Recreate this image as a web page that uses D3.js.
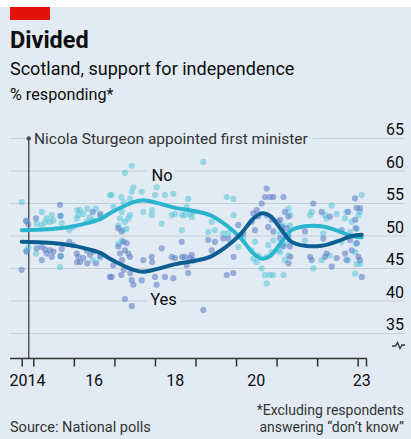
<!DOCTYPE html>
<html><head><meta charset="utf-8">
<script src="https://cdn.jsdelivr.net/npm/d3@7"></script>
<style>
html,body{margin:0;padding:0;background:#fff;}
svg{display:block;font-family:Roboto,"Noto Sans",sans-serif;}
</style></head>
<body><svg id="c" width="411" height="439"></svg>
<script>
// ---- data ----
const pollDates = [2014.714,2014.82,2014.877,2014.837,2015.067,2015.658,2015.67,2015.084,2015.207,2015.289,2015.33,2015.21,2015.412,2015.493,2015.454,2015.70,2015.676,2015.888,2015.986,2016.07,2016.11,2016.152,2016.233,2016.317,2016.398,2016.48,2016.546,2016.645,2016.332,2016.08,2016.465,2016.65,2016.973,2016.933,2017.096,2017.18,2017.10,2017.138,2017.19,2017.22,2017.303,2017.261,2017.343,2017.385,2017.23,2017.17,2017.39,2017.427,2017.466,2017.26,2017.43,2017.713,2017.673,2017.92,2017.93,2018.001,2018.043,2018.166,2018.248,2018.413,2018.494,2018.453,2018.66,2018.67,2018.741,2018.783,2018.822,2018.906,2018.946,2016.89,2018.86,2019.192,2019.77,2019.932,2019.94,2019.316,2019.4,2019.481,2019.686,2019.809,2020.056,2020.097,2020.179,2020.425,2020.51,2020.633,2020.714,2020.755,2020.837,2020.919,2020.549,2020.76,2020.88,2020.795,2020.92,2021.042,2021.126,2021.084,2021.165,2020.386,2020.467,2021.17,2021.207,2021.09,2021.289,2021.249,2021.29,2021.33,2021.34,2021.295,2021.7,2021.905,2021.824,2021.866,2022.112,2022.152,2022.235,2022.194,2022.317,2022.359,2022.482,2022.605,2022.687,2022.768,2022.81,2022.852,2022.933,2022.974,2022.94,2022.95,2022.98,2023.017,2023.058,2023.1,2023.06,2022.72];
const yesPolls = [44.8,52.3,51.8,47.6,52.7,54.8,53.1,48.1,48.3,47.9,47.3,46.3,47.8,47.6,46.8,48.0,46.9,49.1,48.6,47.3,46.8,46.0,46.6,47.8,47.1,47.6,45.8,46.9,45.8,46.0,53.7,53.4,45.5,43.7,51.2,50.7,48.4,47.3,46.3,49.1,48.9,47.8,47.3,46.8,44.8,44.0,44.3,43.2,42.5,40.3,39.2,46.3,43.2,46.8,46.0,43.7,42.5,48.1,43.7,46.8,46.6,43.5,49.1,46.8,46.8,45.5,44.3,47.1,46.3,43.7,46.6,38.6,44.0,44.3,46.8,49.4,47.8,49.1,49.6,49.6,51.7,49.9,50.4,53.5,54.0,55.0,56.0,57.3,56.0,56.0,53.0,53.2,52.5,51.4,50.7,52.2,51.4,49.6,48.4,52.2,50.9,56.0,53.7,52.5,53.0,51.2,49.9,48.4,46.8,45.8,50.7,55.0,46.8,46.3,53.7,49.6,47.3,46.8,53.0,45.3,46.6,50.9,47.3,53.7,49.4,47.8,55.8,54.3,52.5,51.2,48.9,46.8,46.3,43.7,54.3,46.3];
const noPolls = [55.2,47.7,48.2,52.4,47.3,45.2,46.9,51.9,51.7,52.1,52.7,53.7,52.2,52.4,53.2,52.0,53.1,50.9,51.4,52.7,53.2,54.0,53.4,52.2,52.9,52.4,54.2,53.1,54.2,54.0,46.3,46.6,54.5,56.3,48.8,49.3,51.6,52.7,53.7,50.9,51.1,52.2,52.7,53.2,55.2,56.0,55.7,56.8,57.5,59.7,60.8,53.7,56.8,53.2,54.0,56.3,57.5,51.9,56.3,53.2,53.4,56.5,50.9,53.2,53.2,54.5,55.7,52.9,53.7,56.3,53.4,61.4,56.0,55.7,53.2,50.6,52.2,50.9,50.4,50.4,48.3,50.1,49.6,46.5,46.0,45.0,44.0,42.7,44.0,44.0,47.0,46.8,47.5,48.6,49.3,47.8,48.6,50.4,51.6,47.8,49.1,44.0,46.3,47.5,47.0,48.8,50.1,51.6,53.2,54.2,49.3,45.0,53.2,53.7,46.3,50.4,52.7,53.2,47.0,54.7,53.4,49.1,52.7,46.3,50.6,52.2,44.2,45.7,47.5,48.8,51.1,53.2,53.7,56.3,45.7,53.7];

const trendDates = [2014.714,2015.24,2015.66,2016.07,2016.40,2016.65,2016.89,2017.14,2017.47,2017.71,2018.04,2018.45,2018.99,2019.36,2019.77,2020.10,2020.43,2020.64,2020.84,2021.125,2021.37,2021.70,2022.11,2022.51,2022.85,2023.10];
const yesTrend = [49.1,49.0,48.8,48.4,47.9,47.4,46.5,45.7,44.8,44.5,44.9,45.6,46.2,46.8,48.4,50.2,52.7,53.5,53.1,50.9,49.1,48.5,48.5,49.2,50.0,50.2];
const noTrend  = [50.9,51.0,51.2,51.6,52.1,52.6,53.5,54.3,55.2,55.5,55.1,54.4,53.8,53.2,51.6,49.8,47.3,46.5,46.9,49.1,50.9,51.5,51.5,50.8,50.0,49.8];

const yTicks = [35,40,45,50,55,60,65];
const yearTicks = [2015,2016,2017,2018,2019,2020,2021,2022,2023];
const xLabels = [{t:2014.857,label:"2014"},{t:2016.5,label:"16"},{t:2018.5,label:"18"},{t:2020.5,label:"20"},{t:2023.10,label:"23"}];
const sturgeonDate = 2014.888;
const domainStart = 2014.714, domainEnd = 2023.205;

// ---- chart ----
const svg = d3.select("#c");
const bg = "#e2ebf3";
svg.append("rect").attr("x",0).attr("y",7).attr("width",411).attr("height",432).attr("fill",bg);
svg.append("rect").attr("x",10).attr("y",7).attr("width",40).attr("height",13).attr("fill","#e3120b");

svg.append("text").attr("x",10).attr("y",48).attr("font-size",23.5).attr("font-weight",700).attr("fill","#0d0d0d").text("Divided");
svg.append("text").attr("x",10).attr("y",75).attr("font-size",18).attr("fill","#0d0d0d").text("Scotland, support for independence");
svg.append("text").attr("x",10).attr("y",100).attr("font-size",16.2).attr("fill","#0d0d0d").text("% responding*");

const x = d3.scaleLinear().domain([domainStart, domainEnd]).range([21.7, 366]);
const y = d3.scaleLinear().domain([35, 65]).range([333.5, 138.5]);

// gridlines
const grid = svg.append("g");
grid.selectAll("line").data(yTicks).join("line")
  .attr("x1",10).attr("x2",405)
  .attr("y1",d=>y(d)).attr("y2",d=>y(d))
  .attr("stroke","#c6d0d8").attr("stroke-width",1.2);
grid.selectAll("text").data(yTicks).join("text")
  .attr("x",404).attr("y",d=>y(d)-3.5).attr("text-anchor","end")
  .attr("font-size",16).attr("fill","#0d0d0d").text(d=>d);

// gaps behind labels
svg.append("rect").attr("x",30).attr("y",y(65)-4).attr("width",283).attr("height",8).attr("fill",bg);
svg.append("rect").attr("x",147).attr("y",y(60)-4).attr("width",28).attr("height",8).attr("fill",bg);
svg.append("rect").attr("x",147).attr("y",y(40)-4).attr("width",33).attr("height",8).attr("fill",bg);

// broken axis symbol
svg.append("path").attr("d","M392,346 h3.5 l2,-3.5 l2.5,6 l2,-3.5 h3")
  .attr("fill","none").attr("stroke","#333").attr("stroke-width",1.4);

// sturgeon line
const sx = x(sturgeonDate);
svg.append("line").attr("x1",sx).attr("x2",sx).attr("y1",y(65)).attr("y2",358)
  .attr("stroke","#4d4d4d").attr("stroke-width",1.4);
svg.append("circle").attr("cx",sx).attr("cy",y(65)).attr("r",2.2).attr("fill","#4d4d4d");
svg.append("text").attr("x",34).attr("y",y(65)+5.5).attr("font-size",15.5).attr("fill","#333")
  .text("Nicola Sturgeon appointed first minister");

// x axis
const xAxis = d3.axisBottom(x).tickValues([domainStart, ...yearTicks, domainEnd]).tickSize(8).tickSizeOuter(0).tickFormat("");
const gx = svg.append("g").attr("transform","translate(0,358.5)").call(xAxis);
gx.select(".domain").remove();
gx.selectAll(".tick line").attr("stroke","#333").attr("stroke-width",1.5);
svg.append("line").attr("x1",10).attr("x2",x(domainEnd)+0.7).attr("y1",358.5).attr("y2",358.5)
  .attr("stroke","#333").attr("stroke-width",1.6);
svg.append("g").selectAll("text").data(xLabels).join("text")
  .attr("x",d=>x(d.t)).attr("y",386).attr("text-anchor","middle")
  .attr("font-size",16).attr("fill","#0d0d0d").text(d=>d.label);

// dots
const pts = pollDates.map((t,i)=>({t, yes:yesPolls[i], no:noPolls[i]}));
svg.append("g").selectAll("circle").data(pts).join("circle")
  .attr("cx",d=>x(d.t)).attr("cy",d=>y(d.no)).attr("r",3.1)
  .attr("fill","#4cc4d8").attr("fill-opacity",0.5);
svg.append("g").selectAll("circle").data(pts).join("circle")
  .attr("cx",d=>x(d.t)).attr("cy",d=>y(d.yes)).attr("r",3.1)
  .attr("fill","#5f80c6").attr("fill-opacity",0.58);

// trend lines
const line = d3.line().curve(d3.curveCatmullRom.alpha(0.5));
svg.append("path").attr("d", line(trendDates.map((t,i)=>[x(t), y(noTrend[i])])))
  .attr("fill","none").attr("stroke","#2ab5cf").attr("stroke-width",4).attr("stroke-linecap","round");
svg.append("path").attr("d", line(trendDates.map((t,i)=>[x(t), y(yesTrend[i])])))
  .attr("fill","none").attr("stroke","#0d5f92").attr("stroke-width",4).attr("stroke-linecap","round");

// series labels
svg.append("text").attr("x",162).attr("y",181).attr("text-anchor","middle").attr("font-size",16.5).attr("fill","#0d0d0d").text("No");
svg.append("text").attr("x",163.5).attr("y",305).attr("text-anchor","middle").attr("font-size",16.5).attr("fill","#0d0d0d").text("Yes");

// footer
svg.append("text").attr("x",10).attr("y",431.5).attr("font-size",14.5).attr("fill","#333").text("Source: National polls");
svg.append("text").attr("x",404).attr("y",415).attr("text-anchor","end").attr("font-size",14).attr("fill","#333").text("*Excluding respondents");
svg.append("text").attr("x",404).attr("y",431.5).attr("text-anchor","end").attr("font-size",14).attr("fill","#333").text("answering \u201cdon\u2019t know\u201d");
</script></body></html>
